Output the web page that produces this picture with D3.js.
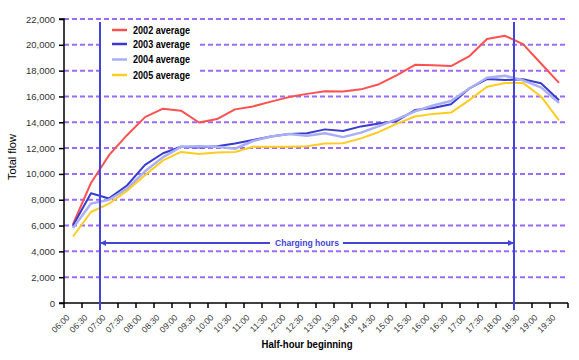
<!DOCTYPE html>
<html>
<head>
<meta charset="utf-8">
<script src="https://cdn.jsdelivr.net/npm/d3@7/dist/d3.min.js"></script>
<style>
  html, body { margin: 0; padding: 0; background: #fff; }
  svg { display: block; }
  .narrow { font-family: "Liberation Sans Narrow", "Arial Narrow", "Liberation Sans", Arial, sans-serif; }
</style>
</head>
<body>
<svg id="chart" width="579" height="360"></svg>
<script>
const categories = ["06:00","06:30","07:00","07:30","08:00","08:30","09:00","09:30","10:00","10:30",
  "11:00","11:30","12:00","12:30","13:00","13:30","14:00","14:30","15:00","15:30",
  "16:00","16:30","17:00","17:30","18:00","18:30","19:00","19:30"];

const avg2002 = [6100,9300,11450,13000,14400,15050,14900,13980,14250,15000,
  15230,15600,15950,16200,16400,16380,16550,16950,17650,18450,
  18420,18350,19100,20450,20700,20050,18550,17050];
const avg2003 = [6000,8500,8100,9100,10700,11600,12100,12050,12150,12350,
  12620,12900,13100,13150,13450,13330,13680,13900,14100,14950,
  15100,15400,16600,17350,17270,17330,17020,15700];
const avg2004 = [5800,7700,8000,8850,10200,11300,12100,12150,12100,11950,
  12550,12900,13100,12950,13150,12850,13200,13700,14250,14850,
  15300,15650,16600,17450,17600,17250,16700,15500];
const avg2005 = [5150,7050,7700,8700,9900,11050,11700,11550,11650,11700,
  12100,12100,12100,12150,12350,12370,12750,13250,13900,14450,
  14650,14750,15700,16750,17050,17050,16000,14150];

const seriesNames = ["2002 average","2003 average","2004 average","2005 average"];
const yTicks = [0,2000,4000,6000,8000,10000,12000,14000,16000,18000,20000,22000];
const chargingStart = "07:00";
const chargingEnd = "18:30";
const chargingLabel = "Charging hours";
const xTitle = "Half-hour beginning";
const yTitle = "Total flow";

const series = [
  {name: seriesNames[0], values: avg2002, color: "#ff5050", width: 2},
  {name: seriesNames[1], values: avg2003, color: "#3a3acc", width: 2},
  {name: seriesNames[2], values: avg2004, color: "#a9aef5", width: 2.5},
  {name: seriesNames[3], values: avg2005, color: "#ffcc22", width: 2}
];

const svg = d3.select("#chart");
const L = 64, R = 568, T = 19, B = 303;

const x = d3.scaleBand().domain(categories).range([L, R]).paddingInner(0).paddingOuter(0);
const y = d3.scaleLinear().domain([0, 22000]).range([B, T]);

// gridlines
svg.append("g").selectAll("line").data(yTicks.filter(d => d > 0)).join("line")
  .attr("x1", L).attr("x2", R)
  .attr("y1", d => y(d)).attr("y2", d => y(d))
  .attr("stroke", "#9b6bff").attr("stroke-width", 2)
  .attr("stroke-dasharray", "5,3");

// legend background
const legend = svg.append("g");
legend.append("rect").attr("x", 103).attr("y", 22).attr("width", 94).attr("height", 60).attr("fill", "#fff");

// lines
const line = d3.line().x((d, i) => x(categories[i]) + x.bandwidth() / 2).y(d => y(d));
svg.append("g").selectAll("path").data(series).join("path")
  .attr("d", d => line(d.values))
  .attr("fill", "none")
  .attr("stroke", d => d.color)
  .attr("stroke-width", d => d.width)
  .attr("stroke-linejoin", "round");

// legend entries
const legY = [30, 44, 59.5, 75];
series.forEach((s, i) => {
  legend.append("line").attr("x1", 112).attr("x2", 127).attr("y1", legY[i]).attr("y2", legY[i])
    .attr("stroke", s.color).attr("stroke-width", 2.5);
  legend.append("text").attr("class", "narrow").attr("x", 133).attr("y", legY[i]).attr("dy", "0.35em")
    .attr("font-size", 10.5).attr("font-weight", "bold").attr("fill", "#000")
    .attr("textLength", 57).attr("lengthAdjust", "spacingAndGlyphs").text(s.name);
});

// axes
const yAxis = d3.axisLeft(y).tickValues(yTicks).tickSize(5).tickPadding(4).tickFormat(d3.format(","));
const gy = svg.append("g").attr("transform", `translate(${L},0)`).call(yAxis);
gy.select(".domain").attr("stroke", "#000").attr("stroke-width", 1.5).attr("d", `M-5,${T}H0V${B}H-5`);
gy.selectAll(".tick line").attr("stroke", "#000").attr("stroke-width", 1.5);
gy.selectAll(".tick text").attr("class", "narrow").attr("font-size", 9.5).attr("fill", "#333");

const gx = svg.append("g").attr("transform", `translate(0,${B})`);
gx.append("line").attr("x1", L).attr("x2", R).attr("y1", 0).attr("y2", 0).attr("stroke", "#000").attr("stroke-width", 1.5);
const boundaries = categories.map(c => x(c)).concat([R]);
gx.selectAll("line.tk").data(boundaries).join("line").attr("class", "tk")
  .attr("x1", d => d).attr("x2", d => d).attr("y1", 0).attr("y2", 5)
  .attr("stroke", "#000").attr("stroke-width", 1.5);
gx.selectAll("text").data(categories).join("text")
  .attr("class", "narrow")
  .attr("transform", d => `translate(${x(d) + x.bandwidth() / 2 - 5},${13}) rotate(-45)`)
  .attr("text-anchor", "end").attr("dy", "0.35em")
  .attr("font-size", 8.5).attr("fill", "#333").text(d => d);

// titles
svg.append("text").attr("class", "narrow").attr("x", 307).attr("y", 348)
  .attr("text-anchor", "middle").attr("font-size", 10.5).attr("font-weight", "bold")
  .attr("textLength", 91).attr("lengthAdjust", "spacingAndGlyphs").text(xTitle);
svg.append("text").attr("transform", `translate(16,157) rotate(-90)`)
  .attr("text-anchor", "middle").attr("font-family", "Liberation Sans, Arial, sans-serif")
  .attr("font-size", 11).text(yTitle);

// charging hours markers
const xs = x(chargingStart), xe = x(chargingEnd);
svg.append("g").selectAll("line").data([xs, xe]).join("line")
  .attr("x1", d => d).attr("x2", d => d).attr("y1", 22).attr("y2", 310)
  .attr("stroke", "#4444d8").attr("stroke-width", 2);
const ay = 243;
const ch = svg.append("g");
ch.append("line").attr("x1", xs).attr("x2", 270).attr("y1", ay).attr("y2", ay).attr("stroke", "#4444d8").attr("stroke-width", 2);
ch.append("line").attr("x1", 343).attr("x2", xe).attr("y1", ay).attr("y2", ay).attr("stroke", "#4444d8").attr("stroke-width", 2);
ch.append("path").attr("d", `M${xs},${ay}l6,-3v6z`).attr("fill", "#4444d8");
ch.append("path").attr("d", `M${xe},${ay}l-6,-3v6z`).attr("fill", "#4444d8");
ch.append("text").attr("class", "narrow").attr("x", (270 + 343) / 2 + 0.5).attr("y", ay).attr("dy", "0.35em")
  .attr("text-anchor", "middle").attr("font-size", 9.5).attr("font-weight", "bold").attr("fill", "#4444d8")
  .attr("textLength", 64).attr("lengthAdjust", "spacingAndGlyphs").text(chargingLabel);
</script>
</body>
</html>
